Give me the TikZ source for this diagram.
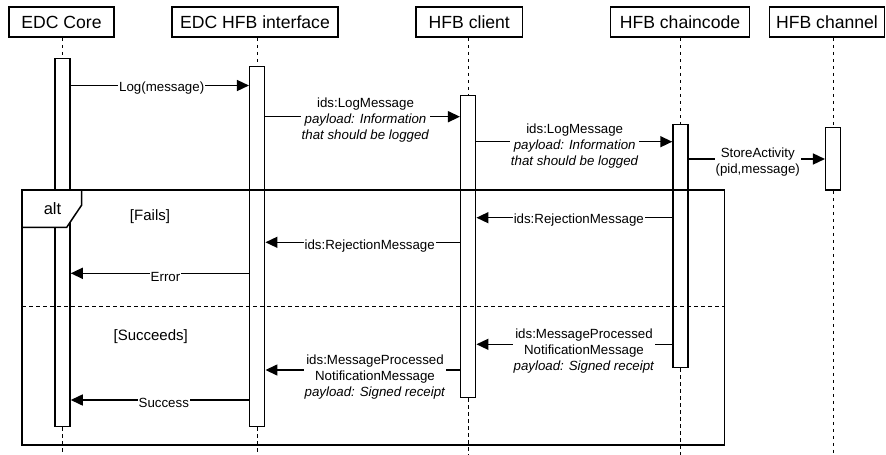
\documentclass[tikz,border=0pt]{standalone}
\usepackage{fontspec}
\setmainfont{Liberation Sans}
\usetikzlibrary{arrows.meta}
\begin{document}
\begin{tikzpicture}[x=1pt,y=-1pt,
  hdr/.style={draw, line width=1.5pt, minimum height=30pt, inner sep=0pt, font=\fontsize{17.6}{20}\selectfont},
  act/.style={draw, fill=white, line width=1.5pt, minimum width=15pt, inner sep=0pt},
  life/.style={line width=1.2pt, dash pattern=on 3.5pt off 3.5pt},
  frm/.style={line width=1.5pt},
  msg/.style={line width=1.5pt, -{Triangle[length=12pt,width=11pt]}},
  lbl/.style={fill=white, inner sep=1pt, align=center, font=\fontsize{13.3}{16}\selectfont},
  guard/.style={font=\fontsize{15}{18}\selectfont},
]
\useasboundingbox (0,0) rectangle (886,455);
\fill[white] (0,0) rectangle (886,455);

% headers
\node[hdr, minimum width=105pt] (hA) at (61.5,22) {EDC Core};
\node[hdr, minimum width=166pt] (hB) at (255,22) {EDC HFB interface};
\node[hdr, minimum width=106.7pt] (hC) at (469.3,22) {HFB client};
\node[hdr, minimum width=138.7pt] (hD) at (680,22) {HFB chaincode};
\node[hdr, minimum width=115pt] (hE) at (827,22) {HFB channel};

% activation bars
\coordinate (bot) at (0,455);
\node[act, minimum height=368.4pt] (aA) at (62.5,242.5) {};
\node[act, minimum height=360pt] (aB) at (257.2,246.7) {};
\node[act, minimum height=301.6pt] (aC) at (468.2,246.5) {};
\node[act, minimum height=243pt] (aD) at (680.5,245.8) {};
\node[act, minimum height=62.7pt] (aE) at (833.2,158.7) {};

% lifelines
\foreach \h/\a in {hA/aA,hB/aB,hC/aC,hD/aD,hE/aE}{
  \draw[life] (\a.north |- \h.south) -- (\a.north);
  \draw[life] (\a.south) -- (\a.south |- bot);
}

% alt frame
\coordinate (fr1) at (22,190);
\coordinate (fr2) at (724.3,445);
\coordinate (dv) at (0,306.7);
\draw[frm] (fr1) rectangle (fr2);
\draw[life] (fr1 |- dv) -- (fr2 |- dv);
\draw[frm, fill=white] (22,190) -- (81.7,190) -- (81.7,205) -- (66.7,227.3) -- (22,227.3) -- cycle;
\node[font=\fontsize{16.5}{18}\selectfont] (alt) at (52.5,209) {alt};
\node[guard] (g1) at (150,217) {[Fails]};
\node[guard] (g2) at (150.7,337) {[Succeeds]};

% message levels
\coordinate (y1) at (0,85.5);
\coordinate (y2) at (0,116.7);
\coordinate (y3) at (0,141.7);
\coordinate (y4) at (0,159);
\coordinate (y5) at (0,217.7);
\coordinate (y6) at (0,242.3);
\coordinate (y7) at (0,273.3);
\coordinate (y8) at (0,344.3);
\coordinate (y9) at (0,370);
\coordinate (y10) at (0,400);

\draw[msg] (aA.east |- y1) -- (aB.west |- y1);
\draw[msg] (aB.east |- y2) -- (aC.west |- y2);
\draw[msg] (aC.east |- y3) -- (aD.west |- y3);
\draw[msg] (aD.east |- y4) -- (aE.west |- y4);
\draw[msg] (aD.west |- y5) -- (aC.east |- y5);
\draw[msg] (aC.west |- y6) -- (aB.east |- y6);
\draw[msg] (aB.west |- y7) -- (aA.east |- y7);
\draw[msg] (aD.west |- y8) -- (aC.east |- y8);
\draw[msg] (aC.west |- y9) -- (aB.east |- y9);
\draw[msg] (aB.west |- y10) -- (aA.east |- y10);

% labels
\node[lbl] (l1) at (161.7,88) {Log(message)};
\node[lbl] (l2) at (365.5,120) {ids:LogMessage\\\textit{payload: Information}\\\textit{that should be logged}};
\node[lbl] (l3) at (574.7,145.7) {ids:LogMessage\\\textit{payload: Information}\\\textit{that should be logged}};
\node[lbl] (l4) at (757.7,162.3) {StoreActivity\\(pid,message)};
\node[lbl] (l5) at (578.8,220) {ids:RejectionMessage};
\node[lbl] (l6) at (369.7,246.5) {ids:RejectionMessage};
\node[lbl] (l7) at (165.5,276.7) {Error};
\node[lbl] (l8) at (584,350.7) {ids:MessageProcessed\\NotificationMessage\\\textit{payload: Signed receipt}};
\node[lbl] (l9) at (375,376.7) {ids:MessageProcessed\\NotificationMessage\\\textit{payload: Signed receipt}};
\node[lbl] (l10) at (163.8,403.3) {Success};
\end{tikzpicture}
\end{document}
